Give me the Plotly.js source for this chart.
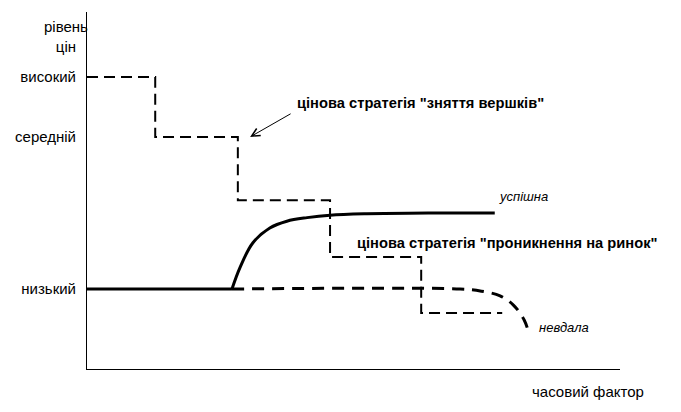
<!DOCTYPE html>
<html>
<head>
<meta charset="utf-8">
<script src="https://cdn.plot.ly/plotly-3.0.1.min.js"></script>
<style>html,body{margin:0;padding:0;background:#fff;}</style>
</head>
<body>
<div id="chart" style="width:681px;height:412px;"></div>
<script>
// Price levels (y) on a 0–100 scale
var levelValues = [81.8, 65.0, 22.4];
var levelLabels = ["високий", "середній", "низький"];

// "Skimming" strategy: stepwise falling price (step starts)
var skimX = [0, 12.8, 28.3, 45.6, 62.7, 77.9];
var skimY = [81.8, 65.0, 47.3, 31.4, 15.7, 15.7];

// "Penetration" strategy – flat start (low price)
var flatX = [0, 27.2];
var flatY = [22.4, 22.4];

// "Penetration" strategy – successful path
var successX = [27.2, 28.7, 31.1, 34.3, 37.5, 41.3, 45.6, 52.5, 64, 76.5];
var successY = [22.4, 28.4, 35.3, 39.5, 41.4, 42.4, 43.1, 43.5, 43.7, 43.7];

// "Penetration" strategy – failed path
var failX = [27.2, 70, 74, 77.5, 80, 82, 83];
var failY = [22.4, 22.4, 21.8, 20.5, 17.9, 13.8, 9.5];

var FONT = "Arial, 'Liberation Sans', sans-serif";

var traces = [
  {x: skimX, y: skimY, mode: "lines", line: {shape: "hv", color: "#000", width: 2, dash: "11px,6px"}, hoverinfo: "skip"},
  {x: failX, y: failY, mode: "lines", line: {shape: "spline", color: "#000", width: 3, dash: "12px,8px"}, hoverinfo: "skip"},
  {x: flatX, y: flatY, mode: "lines", line: {color: "#000", width: 3}, hoverinfo: "skip"},
  {x: successX, y: successY, mode: "lines", line: {shape: "spline", smoothing: 1, color: "#000", width: 3}, hoverinfo: "skip"}
];

var layout = {
  width: 681, height: 412,
  margin: {l: 87, r: 61, t: 12, b: 43},
  paper_bgcolor: "#fff", plot_bgcolor: "#fff",
  showlegend: false,
  font: {family: FONT, color: "#000", size: 15},
  xaxis: {range: [0, 100], showline: true, linecolor: "#000", linewidth: 1,
          showgrid: false, zeroline: false, showticklabels: false, ticks: "", fixedrange: true},
  yaxis: {range: [0, 100], showline: true, linecolor: "#000", linewidth: 1,
          showgrid: false, zeroline: false, ticks: "", tickvals: levelValues, ticktext: levelLabels,
          ticklabelstandoff: 7, tickfont: {family: FONT, size: 15, color: "#000"}, fixedrange: true},
  annotations: [
    {xref: "paper", yref: "paper", x: -0.04, y: 0.99, text: "рівень<br>цін", showarrow: false,
     xanchor: "center", yanchor: "top", align: "center", font: {size: 15}},
    {xref: "paper", yref: "paper", x: 0.94, y: -0.035, text: "часовий фактор", showarrow: false,
     xanchor: "center", yanchor: "top", font: {size: 15}},
    {xref: "x", yref: "y", x: 39.0, y: 74.5, text: "<b>цінова стратегія \"зняття вершків\"</b>", showarrow: false,
     xanchor: "left", yanchor: "middle", font: {size: 14.7}},
    {xref: "x", yref: "y", x: 30.6, y: 65.0, ax: 42, ay: -24, text: "", showarrow: true,
     arrowhead: 5, arrowsize: 1.6, arrowwidth: 1, arrowcolor: "#000"},
    {xref: "x", yref: "y", x: 50.2, y: 35.3, text: "<b>цінова стратегія \"проникнення на ринок\"</b>", showarrow: false,
     xanchor: "left", yanchor: "middle", font: {size: 14.7}},
    {xref: "x", yref: "y", x: 76.9, y: 48.2, text: "<i>успішна</i>", showarrow: false,
     xanchor: "left", yanchor: "middle", font: {size: 13}},
    {xref: "x", yref: "y", x: 84.4, y: 11.5, text: "<i>невдала</i>", showarrow: false,
     xanchor: "left", yanchor: "middle", font: {size: 13}}
  ]
};

Plotly.newPlot("chart", traces, layout, {staticPlot: true, displayModeBar: false});
</script>
</body>
</html>
